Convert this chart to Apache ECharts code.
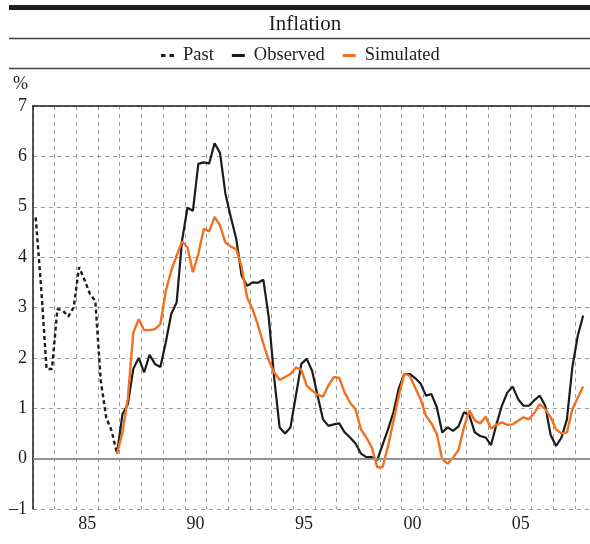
<!DOCTYPE html>
<html>
<head>
<meta charset="utf-8">
<script src="https://cdn.jsdelivr.net/npm/echarts@6/dist/echarts.min.js"></script>
<style>
  html, body { margin: 0; padding: 0; background: #ffffff; }
  #chart { width: 590px; height: 544px; }
</style>
</head>
<body>
<div id="chart"></div>
<script>
// Quarterly inflation, % (year-on-year)
const pastStart = '1983Q1';
const pastValues = [
  4.79, 3.40, 1.78, 1.78,
  2.97, 2.94, 2.82, 3.00,
  3.80, 3.55, 3.27, 3.13,
  1.55, 0.82, 0.55, 0.10
];

const modelStart = '1986Q4';
const observedValues = [
  0.10,
  0.88, 1.08, 1.78, 2.00,
  1.71, 2.06, 1.88, 1.82,
  2.31, 2.87, 3.10, 4.33,
  4.98, 4.92, 5.85, 5.88,
  5.86, 6.26, 6.07, 5.26,
  4.79, 4.36, 3.63, 3.43,
  3.50, 3.49, 3.55, 2.80,
  1.60, 0.62, 0.50, 0.62,
  1.25, 1.88, 1.98, 1.74,
  1.25, 0.78, 0.65, 0.68,
  0.70, 0.52, 0.42, 0.30,
  0.10, 0.03, 0.03, -0.03,
  0.28, 0.58, 0.92, 1.40,
  1.68, 1.68, 1.60, 1.49,
  1.25, 1.28, 1.02, 0.52,
  0.62, 0.55, 0.64, 0.92,
  0.86, 0.52, 0.45, 0.42,
  0.27, 0.68, 1.05, 1.31,
  1.43, 1.18, 1.05, 1.05,
  1.16, 1.25, 1.05, 0.47,
  0.25, 0.42, 0.78, 1.81,
  2.44, 2.84
];
const simulatedValues = [
  0.10,
  0.52, 1.20, 2.50, 2.77,
  2.55, 2.55, 2.57, 2.67,
  3.33, 3.73, 4.03, 4.31,
  4.19, 3.70, 4.06, 4.56,
  4.51, 4.80, 4.63, 4.29,
  4.21, 4.16, 3.80, 3.20,
  2.97, 2.65, 2.28, 1.95,
  1.71, 1.56, 1.62, 1.68,
  1.81, 1.76, 1.45, 1.35,
  1.27, 1.23, 1.45, 1.62,
  1.60, 1.31, 1.11, 0.98,
  0.58, 0.42, 0.22, -0.17,
  -0.17, 0.25, 0.75, 1.25,
  1.69, 1.64, 1.41, 1.18,
  0.85, 0.70, 0.49, -0.01,
  -0.10, 0.02, 0.17, 0.62,
  0.96, 0.76, 0.70, 0.83,
  0.60, 0.67, 0.72, 0.67,
  0.68, 0.75, 0.82, 0.78,
  0.91, 1.08, 0.98, 0.82,
  0.58, 0.50, 0.52, 0.98,
  1.21, 1.43
];

const xLabelYears = [1985, 1990, 1995, 2000, 2005];
const xTickLabels = ['85', '90', '95', '00', '05'];
const yMin = -1, yMax = 7, yStep = 1;
const xMin = 1983, xMax = 2008.69;

// quarter "YYYYQn" -> position at the middle of that quarter
function quarterPos(label, offset) {
  const y = parseInt(label.slice(0, 4), 10);
  const q = parseInt(label.slice(5), 10) - 1 + offset;
  return y + Math.floor(q / 4) + ((q % 4) + 0.5) / 4;
}
function toPairs(start, values) {
  return values.map((v, i) => [quarterPos(start, i), v]);
}

const serif = '"Liberation Serif", "Times New Roman", serif';
const ink = '#1c1c1c';
const orange = '#F36F21';
const gridGrey = '#9c9c9c';

const chart = echarts.init(document.getElementById('chart'), null, { renderer: 'canvas' });

chart.setOption({
  animation: false,
  backgroundColor: '#ffffff',
  title: {
    text: 'Inflation',
    left: 300,
    top: 9,
    textAlign: 'center',
    textStyle: { fontFamily: serif, fontSize: 21, fontWeight: 'normal', color: '#1e1e1e' }
  },
  legend: {
    left: 156,
    top: 41,
    itemWidth: 13,
    itemHeight: 3,
    itemGap: 18,
    textStyle: { fontFamily: serif, fontSize: 18.5, color: '#1e1e1e', padding: [0, 0, 0, 4] },
    data: [
      { name: 'Past', icon: 'path://M0,0h4v2.5h-4z M7.5,0h4v2.5h-4z' },
      { name: 'Observed', icon: 'rect' },
      { name: 'Simulated', icon: 'rect' }
    ]
  },
  graphic: [
    { type: 'line', shape: { x1: 9, y1: 7.5, x2: 590, y2: 7.5 }, style: { stroke: ink, lineWidth: 5 }, silent: true },
    { type: 'line', shape: { x1: 9, y1: 38.5, x2: 590, y2: 38.5 }, style: { stroke: '#444', lineWidth: 1.5 }, silent: true },
    { type: 'line', shape: { x1: 9, y1: 68.5, x2: 590, y2: 68.5 }, style: { stroke: '#444', lineWidth: 1.5 }, silent: true },
    { type: 'text', left: 13, top: 75, style: { text: '%', font: '18px ' + serif, fill: '#1e1e1e' }, silent: true }
  ],
  grid: { left: 33, right: 0, top: 106, bottom: 35, containLabel: false },
  xAxis: [
    {
      type: 'value',
      min: xMin,
      max: xMax,
      interval: 1,
      axisLine: { show: true, lineStyle: { color: ink, width: 1.5 } },
      axisTick: { show: false },
      axisLabel: {
        customValues: xLabelYears.map(y => y + 0.5),
        formatter: v => xTickLabels[xLabelYears.indexOf(Math.floor(v))] || '',
        fontFamily: serif,
        fontSize: 18,
        color: '#1e1e1e',
        margin: 6
      },
      splitLine: { show: true, lineStyle: { color: gridGrey, type: [4, 4], width: 1 } }
    },
    {
      type: 'value',
      position: 'top',
      min: xMin,
      max: xMax,
      interval: 1,
      axisLine: { show: true, lineStyle: { color: ink, width: 1.5 } },
      axisTick: { show: false },
      axisLabel: { show: false },
      splitLine: { show: false }
    }
  ],
  yAxis: {
    type: 'value',
    min: yMin,
    max: yMax,
    interval: yStep,
    axisLine: { show: true, onZero: false, lineStyle: { color: ink, width: 1.5 } },
    axisTick: { show: false },
    axisLabel: {
      fontFamily: serif,
      fontSize: 18,
      color: '#1e1e1e',
      margin: 6,
      formatter: v => (v < 0 ? '\u2013' + Math.abs(v) : String(v))
    },
    splitLine: { show: true, lineStyle: { color: gridGrey, type: [4, 4], width: 1 } }
  },
  series: [
    {
      name: 'Past',
      type: 'line',
      data: toPairs(pastStart, pastValues),
      symbol: 'none',
      lineStyle: { color: ink, width: 2.4, type: [4, 3] },
      itemStyle: { color: ink },
      z: 3,
      markLine: {
        silent: true,
        symbol: 'none',
        label: { show: false },
        lineStyle: { color: '#a8a8a8', type: 'solid', width: 1.5 },
        data: [{ yAxis: 0 }]
      }
    },
    {
      name: 'Observed',
      type: 'line',
      data: toPairs(modelStart, observedValues),
      symbol: 'none',
      lineStyle: { color: ink, width: 2.2 },
      itemStyle: { color: ink },
      z: 3
    },
    {
      name: 'Simulated',
      type: 'line',
      data: toPairs(modelStart, simulatedValues),
      symbol: 'none',
      lineStyle: { color: orange, width: 2.4 },
      itemStyle: { color: orange },
      z: 4
    }
  ]
});
</script>
</body>
</html>
